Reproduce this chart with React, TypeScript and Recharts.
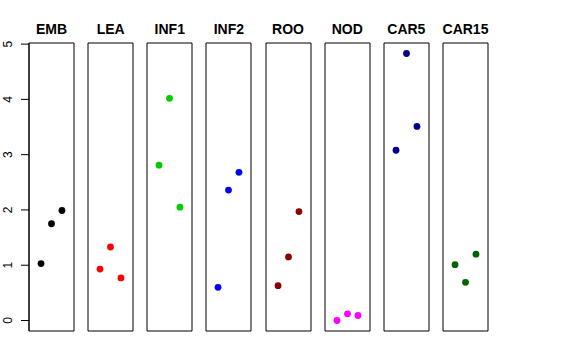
import { ScatterChart, Scatter, XAxis, YAxis, ReferenceArea } from "recharts";

const PANELS = ["EMB", "LEA", "INF1", "INF2", "ROO", "NOD", "CAR5", "CAR15"];
const REPLICATES = [1, 2, 3];
const EMB = [1.03, 1.75, 1.99];
const LEA = [0.93, 1.33, 0.77];
const INF1 = [2.81, 4.02, 2.05];
const INF2 = [0.6, 2.36, 2.68];
const ROO = [0.63, 1.15, 1.97];
const NOD = [0.0, 0.12, 0.09];
const CAR5 = [3.08, 4.83, 3.51];
const CAR15 = [1.01, 0.69, 1.2];
const SERIES = [EMB, LEA, INF1, INF2, ROO, NOD, CAR5, CAR15];
const COLORS = ["#000000", "#ff0000", "#00cd00", "#0000ff", "#8b0000", "#ff00ff", "#00008b", "#006400"];
const Y_TICKS = [0, 1, 2, 3, 4, 5];

const X_DOMAIN: [number, number] = [-0.15, 4.15];
const Y_DOMAIN: [number, number] = [-0.19, 5.02];
const FONT = '"Liberation Sans", Arial, Helvetica, sans-serif';

const BOX_LEFT = 29;
const PITCH = 59.14;
const BOX_W = 45;
const TOP = 43;
const BOTTOM = 29;
const H = 360;

function YTick(props: any) {
  const { y, payload } = props;
  const x = 12;
  return (
    <text
      x={x}
      y={y}
      transform={`rotate(-90, ${x}, ${y})`}
      textAnchor="middle"
      fontSize={12}
      fontFamily={FONT}
      fill="#000"
    >
      {payload.value}
    </text>
  );
}

function Panel({ idx }: { idx: number }) {
  const first = idx === 0;
  const left = BOX_LEFT + idx * PITCH;
  const data = REPLICATES.map((r, i) => ({ x: r, y: SERIES[idx][i] }));
  const color = COLORS[idx];
  const chartLeft = first ? 0 : left - 1;
  const width = first ? BOX_LEFT + BOX_W + 1 : BOX_W + 2;
  return (
    <>
      <div
        style={{
          position: "absolute",
          left: left - 20,
          width: BOX_W + 40,
          top: 22,
          textAlign: "center",
          fontFamily: FONT,
          fontWeight: "bold",
          fontSize: 14,
          lineHeight: "14px",
          color: "#000",
        }}
      >
        {PANELS[idx]}
      </div>
      <div style={{ position: "absolute", left: chartLeft, top: 0 }}>
        <ScatterChart
          width={width}
          height={H}
          margin={{ top: TOP, right: 1, bottom: BOTTOM, left: first ? 0 : 1 }}
        >
          <XAxis type="number" dataKey="x" domain={X_DOMAIN} hide allowDataOverflow />
          {first ? (
            <YAxis
              type="number"
              dataKey="y"
              domain={Y_DOMAIN}
              ticks={Y_TICKS}
              width={BOX_LEFT}
              allowDataOverflow
              interval={0}
              tickSize={8}
              tick={<YTick />}
              axisLine={{ stroke: "#000" }}
              tickLine={{ stroke: "#000" }}
            />
          ) : (
            <YAxis type="number" dataKey="y" domain={Y_DOMAIN} hide allowDataOverflow />
          )}
          <ReferenceArea
            x1={X_DOMAIN[0]}
            x2={X_DOMAIN[1]}
            y1={Y_DOMAIN[0]}
            y2={Y_DOMAIN[1]}
            fill="none"
            fillOpacity={0}
            stroke="#000"
            strokeWidth={1}
            strokeOpacity={1}
          />
          <Scatter
            data={data}
            isAnimationActive={false}
            shape={(p: any) => <circle cx={p.cx} cy={p.cy} r={3.4} fill={color} />}
          />
        </ScatterChart>
      </div>
    </>
  );
}

export default function App() {
  return (
    <div
      style={{
        position: "absolute",
        left: 0,
        top: 0,
        width: 576,
        height: 360,
        background: "#fff",
        overflow: "hidden",
      }}
    >
      {PANELS.map((_, i) => (
        <Panel key={i} idx={i} />
      ))}
    </div>
  );
}
